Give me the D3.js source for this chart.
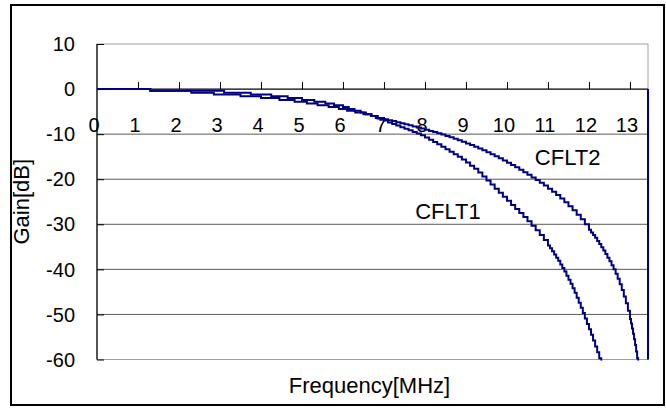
<!DOCTYPE html>
<html>
<head>
<meta charset="utf-8">
<script src="https://cdn.jsdelivr.net/npm/d3@7"></script>
<style>
    body { margin: 0; background: #ffffff; }
    text { font-family: "Liberation Sans", Arial, sans-serif; fill: #000000; }
</style>
</head>
<body>
<div id="gain_chart"></div>
<script>
// tick values
let freqTicks = [0, 1, 2, 3, 4, 5, 6, 7, 8, 9, 10, 11, 12, 13];
let gainTicks = [10, 0, -10, -20, -30, -40, -50, -60];

// CFLT1 (MHz, dB), step points
let cflt1Freq = [0, 1.3, 3.1, 3.75, 4.25, 4.65, 5.0, 5.3, 5.57, 5.78, 6.0, 6.14, 6.28, 6.43, 6.56, 6.68, 6.8, 6.91,
    7.0, 7.1, 7.2, 7.3, 7.4, 7.5, 7.6, 7.7, 7.8, 7.9, 8.0, 8.1, 8.2, 8.3, 8.4, 8.5, 8.6, 8.7, 8.8, 8.9,
    9.0, 9.1, 9.2, 9.3, 9.4, 9.5, 9.6, 9.7, 9.8, 9.9, 10.0, 10.1, 10.2, 10.3, 10.4, 10.5, 10.6, 10.7, 10.8, 10.9,
    11.0, 11.05, 11.1, 11.15, 11.2, 11.25, 11.3, 11.35, 11.4, 11.45, 11.5, 11.55, 11.6, 11.65, 11.7, 11.75,
    11.8, 11.85, 11.9, 11.95, 12.0, 12.05, 12.1, 12.15, 12.2, 12.25, 12.3, 12.35];
let cflt1Gain = [0, -0.4, -0.8, -1.2, -1.6, -2.0, -2.4, -2.8, -3.2, -3.6, -4.0, -4.4, -4.8, -5.2, -5.6, -6.0, -6.4, -6.8,
    -7.0, -7.4, -7.75, -8.1, -8.45, -8.8, -9.15, -9.5, -9.85, -10.25, -10.75, -11.25, -11.75, -12.25, -12.8, -13.35, -13.9, -14.45, -15.0, -15.6,
    -16.3, -17.0, -17.7, -18.5, -19.4, -20.3, -21.2, -22.1, -23.0, -23.9, -24.8, -25.7, -26.6, -27.5, -28.4, -29.3, -30.3, -31.3, -32.4, -33.5,
    -34.7, -35.3, -36.0, -36.7, -37.4, -38.1, -38.9, -39.7, -40.5, -41.4, -42.3, -43.2, -44.2, -45.2, -46.3, -47.4,
    -48.5, -49.7, -50.9, -52.1, -53.3, -54.5, -55.8, -57.1, -58.4, -59.7, -61.0, -62.3];

// CFLT2 (MHz, dB), step points
let cflt2Freq = [0, 1.3, 2.3, 2.85, 3.5, 4.0, 4.45, 4.82, 5.12, 5.38, 5.65, 5.9, 6.1, 6.3, 6.5, 6.7, 6.85,
    7.0, 7.1, 7.2, 7.3, 7.4, 7.5, 7.6, 7.7, 7.8, 7.9, 8.0, 8.1, 8.2, 8.3, 8.4, 8.5, 8.6, 8.7, 8.8, 8.9,
    9.0, 9.1, 9.2, 9.3, 9.4, 9.5, 9.6, 9.7, 9.8, 9.9, 10.0, 10.1, 10.2, 10.3, 10.4, 10.5, 10.6, 10.7, 10.8, 10.9,
    11.0, 11.1, 11.2, 11.3, 11.4, 11.5, 11.6, 11.7, 11.8, 11.9, 12.0, 12.05, 12.1, 12.15, 12.2, 12.25, 12.3, 12.35,
    12.4, 12.45, 12.5, 12.55, 12.6, 12.65, 12.7, 12.75, 12.8, 12.85, 12.9, 12.95, 13.0, 13.025, 13.05, 13.075,
    13.1, 13.125, 13.15, 13.175, 13.2];
let cflt2Gain = [0, -0.4, -0.8, -1.2, -1.6, -2.0, -2.4, -2.8, -3.2, -3.6, -4.0, -4.4, -4.8, -5.2, -5.6, -6.0, -6.4,
    -6.7, -6.9, -7.1, -7.35, -7.6, -7.8, -8.05, -8.3, -8.5, -8.75, -9.0, -9.3, -9.55, -9.8, -10.1, -10.4, -10.7, -11.0, -11.35, -11.7,
    -12.05, -12.4, -12.8, -13.2, -13.6, -14.0, -14.45, -14.9, -15.35, -15.85, -16.35, -16.85, -17.35, -17.9, -18.45, -19.0, -19.6, -20.2, -20.8, -21.4,
    -22.1, -22.8, -23.5, -24.3, -25.1, -26.0, -26.9, -27.9, -28.9, -30.0, -31.2, -31.8, -32.4, -33.0, -33.7, -34.4, -35.1, -35.8,
    -36.6, -37.4, -38.2, -39.1, -40.0, -41.0, -42.1, -43.3, -44.6, -46.0, -47.5, -49.2, -51.0, -52.0, -53.1, -54.3,
    -55.5, -56.8, -58.2, -59.7, -61.3];

// the drop at the right end of the sweep
let edgeFreq = [13.44, 13.44];
let edgeGain = [0, -60];

let lineColor = "#000080";

// set the dimensions and margins of the graph
let margin = {top: 44, right: 18, bottom: 52.5, left: 97},
    width = 666 - margin.left - margin.right,
    height = 412 - margin.top - margin.bottom;

let root = d3.select("#gain_chart")
    .append("svg")
    .attr("width", 666)
    .attr("height", 412);

// outer frame
root.append("rect")
    .attr("x", 11)
    .attr("y", 5)
    .attr("width", 653)
    .attr("height", 400)
    .attr("fill", "none")
    .attr("stroke", "#000000")
    .attr("stroke-width", 2);

let svg = root.append("g")
    .attr("transform", "translate(" + margin.left + "," + margin.top + ")");

let x = d3.scaleLinear()
    .domain([0, 13.44])
    .range([0, width]);

let y = d3.scaleLinear()
    .domain([-60, 10])
    .range([height, 0]);

svg.append("clipPath")
    .attr("id", "plot_clip")
    .append("rect")
    .attr("x", 0)
    .attr("y", -1)
    .attr("width", width + 1)
    .attr("height", height + 2);

// plot area border (grey)
svg.append("rect")
    .attr("x", 0)
    .attr("y", 0)
    .attr("width", width)
    .attr("height", height)
    .attr("fill", "none")
    .attr("stroke", "#a0a0a0")
    .attr("stroke-width", 1);

// horizontal gridlines
svg.selectAll(".grid")
    .data(gainTicks.filter(function(d) { return d != 10 && d != 0 && d != -60; }))
    .enter()
    .append("line")
    .attr("class", "grid")
    .attr("x1", 0)
    .attr("x2", width)
    .attr("y1", function(d) { return y(d); })
    .attr("y2", function(d) { return y(d); })
    .attr("stroke", "#5a5a5a")
    .attr("stroke-width", 1);

// Y axis: ticks point into the plot
let yAxis = svg.append("g")
    .call(d3.axisRight(y).tickValues(gainTicks).tickSize(7).tickFormat(""));
yAxis.select(".domain").remove();
yAxis.selectAll("line").attr("stroke", "#000000");
svg.append("line")
    .attr("x1", 0).attr("x2", 0)
    .attr("y1", 0).attr("y2", height)
    .attr("stroke", "#000000")
    .attr("stroke-width", 1.2);

svg.selectAll(".ylab")
    .data(gainTicks)
    .enter()
    .append("text")
    .attr("class", "ylab")
    .attr("x", -22)
    .attr("y", function(d) { return y(d); })
    .attr("dy", "0.36em")
    .attr("text-anchor", "end")
    .style("font-size", "20px")
    .text(function(d) { return d; });

// X axis sits on 0 dB, ticks point up, labels hang well below
let xAxis = svg.append("g")
    .attr("transform", "translate(0," + y(0) + ")")
    .call(d3.axisTop(x).tickValues(freqTicks.filter(function(d) { return d > 0; })).tickSize(7).tickFormat(""));
xAxis.select(".domain").remove();
xAxis.selectAll("line").attr("stroke", "#000000");
svg.append("line")
    .attr("x1", 0).attr("x2", width)
    .attr("y1", y(0)).attr("y2", y(0))
    .attr("stroke", "#000000")
    .attr("stroke-width", 1.2);

svg.selectAll(".xlab")
    .data(freqTicks)
    .enter()
    .append("text")
    .attr("class", "xlab")
    .attr("x", function(d) { return x(d) - 3; })
    .attr("y", y(0) + 43)
    .attr("text-anchor", "middle")
    .style("font-size", "20px")
    .text(function(d) { return d; });

// the curves
let line = d3.line()
    .x(function(d) { return x(d[0]); })
    .y(function(d) { return y(d[1]); })
    .curve(d3.curveStepAfter);

let series = [
    d3.zip(cflt2Freq, cflt2Gain),
    d3.zip(cflt1Freq, cflt1Gain),
    d3.zip(edgeFreq, edgeGain)
];

svg.append("g")
    .attr("clip-path", "url(#plot_clip)")
    .selectAll(".curve")
    .data(series)
    .enter()
    .append("path")
    .attr("class", "curve")
    .attr("fill", "none")
    .attr("stroke", lineColor)
    .attr("stroke-width", 2)
    .attr("d", line);

// series labels
svg.append("text")
    .attr("x", x(10.68))
    .attr("y", y(-16.8))
    .style("font-size", "22px")
    .text("CFLT2");

svg.append("text")
    .attr("x", x(7.76))
    .attr("y", y(-28.8))
    .style("font-size", "22px")
    .text("CFLT1");

// axis titles
root.append("text")
    .attr("transform", "translate(" + 29 + "," + (margin.top + height / 2) + ") rotate(-90)")
    .attr("text-anchor", "middle")
    .style("font-size", "22px")
    .text("Gain[dB]");

root.append("text")
    .attr("x", margin.left + width / 2 - 3)
    .attr("y", 393)
    .attr("text-anchor", "middle")
    .style("font-size", "22px")
    .text("Frequency[MHz]");
</script>
</body>
</html>
